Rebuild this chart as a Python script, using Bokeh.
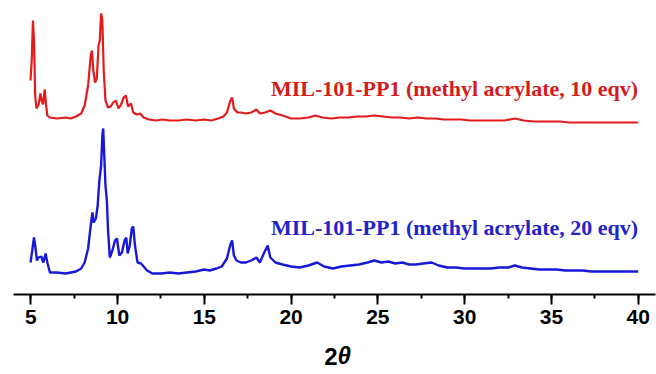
from bokeh.plotting import figure
from bokeh.models import Range1d, SingleIntervalTicker, Label
from bokeh.embed import file_html
from bokeh.resources import INLINE

# 2-theta positions and stacked intensities (a.u., offset) for each pattern
red_x = [4.98, 5.05, 5.12, 5.18, 5.25, 5.32, 5.45, 5.55, 5.62, 5.7, 5.8, 5.88, 5.95, 6.1, 6.5, 7.0, 7.3, 7.6, 7.9,
         8.1, 8.3, 8.45, 8.52, 8.6, 8.7, 8.8, 8.9, 8.97, 9.05, 9.12, 9.2, 9.3, 9.45, 9.6, 9.75, 9.9, 10.05, 10.2,
         10.35, 10.48, 10.6, 10.77, 10.9, 11.1, 11.3, 11.5, 11.8, 12.2, 12.6, 13.0, 13.5, 14.0, 14.5, 15.0, 15.4,
         15.8, 16.1, 16.3, 16.5, 16.6, 16.7, 16.9, 17.1, 17.4, 17.7, 18.0, 18.2, 18.5, 18.8, 19.1, 19.5, 20.0,
         20.5, 21.0, 21.4, 21.8, 22.3, 22.8, 23.3, 23.8, 24.3, 24.8, 25.3, 25.8, 26.3, 26.8, 27.3, 27.8, 28.3,
         28.8, 29.3, 29.8, 30.3, 30.8, 31.3, 31.8, 32.3, 32.9, 33.4, 34.0, 34.5, 35.0, 35.5, 36.0, 36.5, 37.0,
         37.5, 38.0, 38.5, 39.0, 39.5, 40.0]
red_y = [214, 234, 274, 254, 199, 186, 190, 201, 194, 190, 205, 189, 179, 177, 176, 177, 176, 178, 181,
         189, 209, 239, 244, 224, 212, 216, 249, 254, 281, 274, 224, 194, 187, 188, 192, 194, 186, 190,
         197, 199, 188, 191, 182, 180, 181, 177, 175, 174, 175, 174, 174, 175, 174, 175, 174,
         176, 178, 182, 194, 197, 186, 182, 182, 181, 182, 185, 181, 182, 184, 181, 179, 176,
         176, 177, 179, 177, 176, 177, 177, 178, 178, 179, 178, 177, 177, 176, 177, 176, 176,
         175, 175, 175, 174, 174, 174, 174, 174, 176, 174, 173, 173, 173, 173, 172, 172, 172,
         172, 172, 172, 172, 172, 172]

blue_x = [4.98, 5.08, 5.18, 5.25, 5.35, 5.45, 5.6, 5.72, 5.85, 5.95, 6.1, 6.5, 7.0, 7.3, 7.6, 7.9, 8.1, 8.3,
          8.45, 8.55, 8.62, 8.75, 8.85, 8.95, 9.05, 9.12, 9.17, 9.22, 9.3, 9.38, 9.45, 9.55, 9.7, 9.85, 9.96,
          10.1, 10.25, 10.4, 10.5, 10.58, 10.7, 10.82, 10.9, 11.0, 11.15, 11.35, 11.5, 11.7, 12.0, 12.5, 13.0,
          13.5, 14.0, 14.5, 15.0, 15.3, 15.7, 16.0, 16.3, 16.5, 16.6, 16.7, 16.85, 17.1, 17.4, 17.7, 18.0,
          18.2, 18.45, 18.65, 18.8, 19.1, 19.5, 20.0, 20.5, 21.0, 21.5, 21.9, 22.4, 22.9, 23.4, 23.9, 24.4,
          24.8, 25.2, 25.6, 26.0, 26.4, 26.8, 27.2, 27.6, 28.1, 28.5, 29.0, 29.5, 30.0, 30.5, 31.0, 31.5,
          32.0, 32.5, 32.9, 33.3, 33.8, 34.3, 34.8, 35.3, 35.8, 36.3, 36.8, 37.3, 37.8, 38.3, 38.8, 39.3, 40.0]
blue_y = [32, 44, 57, 49, 34, 37, 38, 32, 41, 32, 22, 22, 21, 22, 23, 26, 32, 46,
          69, 82, 72, 76, 89, 114, 129, 159, 166, 144, 109, 94, 64, 37, 44, 54, 56,
          39, 42, 54, 57, 41, 49, 66, 68, 49, 32, 31, 28, 24, 21, 21, 22,
          21, 22, 23, 25, 24, 26, 28, 36, 50, 54, 39, 34, 32, 32, 34, 37,
          32, 42, 49, 37, 32, 30, 28, 27, 29, 32, 28, 26, 28, 29, 30, 32,
          34, 32, 33, 31, 32, 30, 30, 31, 32, 29, 27, 27, 26, 26, 26, 26,
          27, 27, 29, 27, 26, 25, 25, 25, 24, 24, 24, 23, 23, 23, 23, 23, 23]

red_label = "MIL-101-PP1 (methyl acrylate, 10 eqv)"
blue_label = "MIL-101-PP1 (methyl acrylate, 20 eqv)"

RED = "#e41b1b"
BLUE = "#1818d8"

p = figure(width=656, height=374, output_backend="svg", toolbar_location=None,
           x_range=Range1d(4, 41), y_range=Range1d(0, 284), y_axis_location=None,
           min_border_left=13, min_border_right=1, min_border_top=10, min_border_bottom=80)
p.outline_line_color = None
p.grid.visible = False
p.background_fill_color = "white"

p.line(red_x, red_y, line_color=RED, line_width=2.2)
p.line(blue_x, blue_y, line_color=BLUE, line_width=2.4)

ax = p.xaxis[0]
ax.ticker = SingleIntervalTicker(interval=5, num_minor_ticks=2)
ax.axis_line_width = 2
ax.axis_line_color = "black"
ax.major_tick_in = 0
ax.major_tick_out = 10
ax.major_tick_line_width = 2
ax.minor_tick_in = 0
ax.minor_tick_out = 4
ax.minor_tick_line_width = 2
ax.major_label_text_font = "Liberation Sans"
ax.major_label_text_font_style = "bold"
ax.major_label_text_font_size = "21px"
ax.major_label_text_color = "black"
ax.major_label_standoff = 5

for txt, y, col in [(red_label, 206, "#d41c1c"), (blue_label, 67, "#2323cc")]:
    p.add_layout(Label(x=40, y=y, text=txt, text_align="right", text_baseline="alphabetic",
                       text_font="Liberation Sans" if False else "Liberation Serif", text_font_style="bold",
                       text_font_size="22px", text_color=col))

# axis title "2θ" (upright 2, italic θ), placed in the panels below the axis
p.add_layout(Label(x=324, y=-13, x_units="screen", y_units="screen", text="2",
                   text_align="right", text_baseline="alphabetic",
                   text_font="Liberation Sans", text_font_style="bold", text_font_size="24px",
                   text_color="black"), "below")
p.add_layout(Label(x=324, y=15, x_units="screen", y_units="screen", text="\u03b8",
                   text_align="left", text_baseline="alphabetic",
                   text_font="Liberation Sans", text_font_style="bold italic", text_font_size="24px",
                   text_color="black"), "below")

open("out.html", "w").write(file_html(p, INLINE))
